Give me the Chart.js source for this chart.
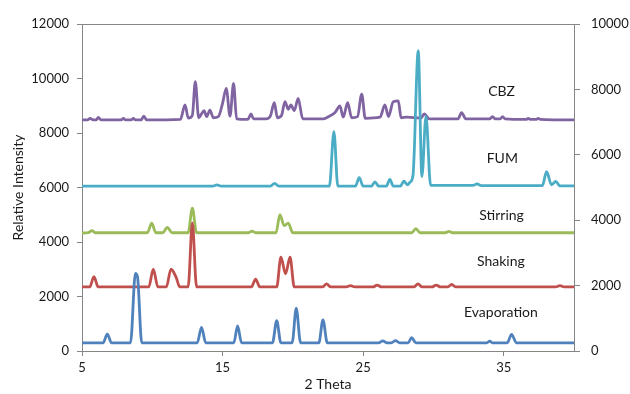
<!DOCTYPE html>
<html>
<head>
<meta charset="utf-8">
<script src="https://cdn.jsdelivr.net/npm/chart.js@4/dist/chart.umd.min.js"></script>
<style>
  body { margin: 0; background: #fff; }
  #wrap { width: 630px; height: 394px; }
</style>
</head>
<body>
<div id="wrap"><canvas id="xrdChart" width="630" height="394"></canvas></div>
<script>
const xTicks = [5, 15, 25, 35];
const leftTicks = [0, 2000, 4000, 6000, 8000, 10000, 12000];
const rightTicks = [0, 2000, 4000, 6000, 8000, 10000];

const seriesNames = ["Evaporation", "Shaking", "Stirring", "FUM", "CBZ"];

const evapTheta = [5, 6.5, 6.8, 7.1, 8.45, 8.8, 8.95, 9.25, 13.2, 13.5, 13.8, 15.8, 16.07, 16.35, 18.55, 18.85, 19.15, 19.95, 20.24, 20.55, 21.85, 22.14, 22.45, 26.1, 26.4, 26.7, 27.0, 27.3, 27.6, 28.2, 28.45, 28.75, 33.8, 34.0, 34.2, 35.25, 35.56, 35.9, 40];
const evapInt = [300, 300, 620, 300, 300, 2850, 2720, 300, 300, 870, 300, 300, 920, 300, 300, 1110, 300, 300, 1570, 300, 300, 1140, 300, 300, 370, 300, 300, 380, 300, 300, 490, 300, 300, 360, 300, 300, 610, 300, 300];

const shakeTheta = [5, 5.55, 5.85, 6.15, 9.75, 10.07, 10.4, 11.0, 11.33, 11.7, 11.95, 12.55, 12.85, 13.15, 17.05, 17.35, 17.65, 18.85, 19.15, 19.48, 19.8, 20.1, 22.1, 22.4, 22.7, 23.8, 24.1, 24.4, 25.7, 26.0, 26.3, 28.6, 28.9, 29.2, 29.9, 30.2, 30.5, 31.0, 31.3, 31.6, 38.7, 39.0, 39.3, 40];
const shakeInt = [2350, 2350, 2730, 2350, 2350, 3000, 2350, 2350, 3000, 2700, 2350, 2350, 4700, 2350, 2350, 2640, 2350, 2350, 3440, 2830, 3440, 2350, 2350, 2460, 2350, 2350, 2400, 2350, 2350, 2420, 2350, 2350, 2460, 2350, 2350, 2420, 2350, 2350, 2440, 2350, 2350, 2400, 2350, 2350];

const stirTheta = [5, 5.45, 5.7, 5.95, 9.65, 9.96, 10.25, 10.75, 11.07, 11.4, 12.55, 12.85, 13.15, 16.85, 17.1, 17.35, 18.8, 19.08, 19.38, 19.67, 20.0, 28.45, 28.75, 29.05, 30.85, 31.1, 31.35, 40];
const stirInt = [4330, 4340, 4420, 4340, 4340, 4690, 4340, 4340, 4540, 4340, 4340, 5240, 4340, 4340, 4400, 4340, 4340, 5000, 4600, 4690, 4340, 4340, 4490, 4340, 4340, 4390, 4340, 4340];

const fumTheta = [5, 14.3, 14.6, 14.9, 18.4, 18.7, 19.0, 22.6, 22.92, 23.2, 24.45, 24.72, 25.0, 25.6, 25.84, 26.1, 26.65, 26.9, 27.15, 27.65, 27.9, 28.15, 28.35, 28.55, 28.92, 29.18, 29.47, 29.8, 32.8, 33.1, 33.4, 37.75, 38.05, 38.4, 38.7, 39.0, 40];
const fumInt = [6050, 6050, 6100, 6050, 6050, 6150, 6050, 6050, 8050, 6050, 6050, 6360, 6050, 6050, 6210, 6050, 6050, 6300, 6050, 6050, 6230, 6100, 6200, 6460, 11020, 6400, 8620, 6080, 6080, 6130, 6070, 6070, 6580, 6100, 6220, 6060, 6060];

const cbzTheta = [5, 5.4, 5.57, 5.8, 6.0, 6.16, 6.35, 7.8, 7.94, 8.1, 8.5, 8.65, 8.8, 9.2, 9.4, 9.6, 12.0, 12.33, 12.56, 12.85, 13.06, 13.3, 13.5, 13.68, 13.87, 14.1, 14.34, 14.7, 15.0, 15.26, 15.53, 15.78, 16.0, 16.8, 17.02, 17.2, 18.1, 18.4, 18.68, 18.9, 19.2, 19.44, 19.67, 19.86, 20.1, 20.38, 20.7, 22.2, 22.4, 22.6, 23.0, 23.35, 23.58, 23.9, 24.18, 24.6, 24.9, 25.15, 26.2, 26.55, 26.8, 27.14, 27.5, 27.7, 28.1, 29.1, 29.35, 29.7, 31.75, 32.0, 32.3, 34.0, 34.2, 34.4, 34.75, 34.92, 35.1, 36.6, 36.75, 36.9, 37.3, 37.45, 37.6, 40];
const cbzInt = [8480, 8480, 8540, 8480, 8480, 8570, 8480, 8480, 8540, 8480, 8480, 8540, 8480, 8480, 8620, 8480, 8500, 9030, 8550, 8650, 9880, 8560, 8700, 8820, 8600, 8840, 8560, 8600, 9090, 9640, 8620, 9820, 8520, 8500, 8700, 8520, 8520, 8620, 9110, 8560, 8650, 9150, 8870, 9030, 8820, 9270, 8520, 8520, 8560, 8620, 8750, 8990, 8580, 9110, 8560, 8600, 9430, 8540, 8580, 9030, 8600, 9150, 9180, 8560, 8580, 8550, 8700, 8520, 8520, 8750, 8520, 8520, 8600, 8520, 8520, 8600, 8520, 8500, 8540, 8500, 8500, 8540, 8500, 8480];

// label anchors in data units (2 theta, intensity)
const labelTheta = [34.8, 34.8, 34.85, 34.9, 34.85];
const labelInt = [1430, 3270, 4990, 7080, 9540];

const colors = ["#4F81BD", "#C0504D", "#9BBB59", "#4BACC6", "#8064A2"];
const axisColor = "#868686";
const textColor = "#1a1a1a";
const fontFamily = "Lato, 'Open Sans', sans-serif";

const toPoints = (xs, ys) => xs.map((x, i) => ({ x, y: ys[i] }));
const allSeries = [
  toPoints(evapTheta, evapInt),
  toPoints(shakeTheta, shakeInt),
  toPoints(stirTheta, stirInt),
  toPoints(fumTheta, fumInt),
  toPoints(cbzTheta, cbzInt)
];

const seriesLabels = {
  id: "seriesLabels",
  afterDatasetsDraw(chart) {
    const { ctx, scales } = chart;
    ctx.save();
    ctx.font = "14px " + fontFamily;
    ctx.fillStyle = textColor;
    ctx.textAlign = "center";
    ctx.textBaseline = "middle";
    seriesNames.forEach((name, i) => {
      ctx.fillText(name, scales.x.getPixelForValue(labelTheta[i]), scales.y.getPixelForValue(labelInt[i]));
    });
    ctx.restore();
  }
};

const tickFont = { family: fontFamily, size: 13 };
const plainNumber = v => String(v);

new Chart(document.getElementById("xrdChart"), {
  type: "line",
  data: {
    datasets: allSeries.map((pts, i) => ({
      label: seriesNames[i],
      data: pts,
      borderColor: colors[i],
      borderWidth: 2.8,
      pointRadius: 0,
      fill: false,
      cubicInterpolationMode: "monotone",
      yAxisID: "y"
    }))
  },
  options: {
    responsive: false,
    animation: false,
    devicePixelRatio: 1,
    layout: { padding: { top: 24, left: 0, right: 0, bottom: 0 } },
    plugins: { legend: { display: false }, tooltip: { enabled: false } },
    scales: {
      x: {
        type: "linear",
        min: 5,
        max: 40,
        afterBuildTicks: s => { s.ticks = xTicks.map(v => ({ value: v })); },
        afterFit: s => { s.height = 43; },
        grid: { drawOnChartArea: false, tickLength: 5, tickColor: axisColor },
        border: { color: axisColor },
        ticks: { font: tickFont, color: textColor, padding: 4, maxRotation: 0, callback: plainNumber },
        title: { display: true, text: "2 Theta", font: { family: fontFamily, size: 14 }, color: textColor, padding: { top: 0, bottom: 1 } }
      },
      y: {
        position: "left",
        min: 0,
        max: 12000,
        afterBuildTicks: s => { s.ticks = leftTicks.map(v => ({ value: v })); },
        afterFit: s => { s.width = 82; },
        grid: {
          color: c => (c.tick && c.tick.value === 12000 ? axisColor : "rgba(0,0,0,0)"),
          tickColor: axisColor,
          tickLength: 5
        },
        border: { color: axisColor },
        ticks: { font: tickFont, color: textColor, padding: 8, callback: plainNumber },
        title: { display: true, text: "Relative Intensity", font: { family: fontFamily, size: 14 }, color: textColor, padding: { top: 10, bottom: 0 } }
      },
      y2: {
        position: "right",
        min: 0,
        max: 10000,
        afterBuildTicks: s => { s.ticks = rightTicks.map(v => ({ value: v })); },
        afterFit: s => { s.width = 56; },
        grid: { drawOnChartArea: false, tickColor: axisColor, tickLength: 6 },
        border: { color: axisColor },
        ticks: { font: tickFont, color: textColor, padding: 11, callback: plainNumber }
      }
    }
  },
  plugins: [seriesLabels]
});
</script>
</body>
</html>
